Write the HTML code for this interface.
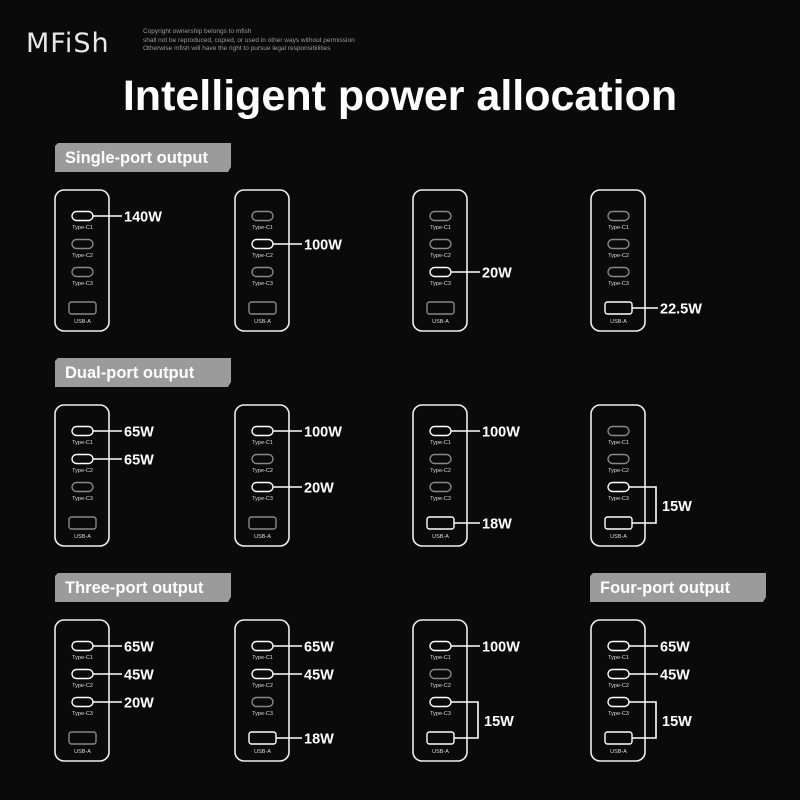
<!DOCTYPE html>
<html><head><style>
html,body{margin:0;padding:0;background:#0b0a0b;width:800px;height:800px;overflow:hidden}
svg{display:block}
</style></head><body>
<svg id="s" width="800" height="800" xmlns="http://www.w3.org/2000/svg" font-family="Liberation Sans, sans-serif">
<rect width="800" height="800" fill="#0b0a0b"/>
<text x="26" y="52" font-size="27" fill="#e8e8e8" letter-spacing="1" font-family="DejaVu Sans, sans-serif">MFiSh</text>
<text x="143" y="33" font-size="6.5" fill="#999">Copyright ownership belongs to mfish</text>
<text x="143" y="42" font-size="6.5" fill="#999">shall not be reproduced, copied, or used in other ways without permission</text>
<text x="143" y="50" font-size="6.5" fill="#999">Otherwise mfish will have the right to pursue legal responsibilities</text>
<text x="400" y="110" font-size="43" font-weight="bold" fill="#fff" text-anchor="middle">Intelligent power allocation</text>
<g id="g"></g>
</svg>
<script>
const g=document.getElementById('g');let h='';
function bar(x,y,t){h+=`<polygon points="${x+3},${y} ${x+176},${y} ${x+176},${y+24} ${x+173},${y+29} ${x},${y+29} ${x},${y+3}" fill="#9b9b9b"/><text x="${x+10}" y="${y+20}" font-size="16.5" font-weight="bold" fill="#fff">${t}</text>`;}
bar(55,143,'Single-port output');bar(55,358,'Dual-port output');bar(55,573,'Three-port output');bar(590,573,'Four-port output');
const cols=[55,235,413,591],rows=[190,405,620];
const cy=[26,54,82,118];
function dev(x,y,act,lines,br){
 h+=`<rect x="${x}" y="${y}" width="54" height="141" rx="9" fill="none" stroke="#eee" stroke-width="1.6"/>`;
 const names=['Type-C1','Type-C2','Type-C3'];
 for(let i=0;i<3;i++){const a=act.includes(i);h+=`<rect x="${x+17}" y="${y+cy[i]-4.5}" width="21" height="9" rx="4.5" fill="none" stroke="${a?'#fff':'#888'}" stroke-width="1.4"/><text x="${x+27.5}" y="${y+cy[i]+13}" font-size="5.5" fill="#ddd" text-anchor="middle">${names[i]}</text>`;}
 const a=act.includes(3);
 h+=`<rect x="${x+14}" y="${y+112}" width="27" height="12" rx="2.5" fill="none" stroke="${a?'#fff':'#888'}" stroke-width="1.4"/><text x="${x+27.5}" y="${y+133}" font-size="5.5" fill="#ddd" text-anchor="middle">USB-A</text>`;
 for(const [i,t] of lines){const px=i==3?x+41:x+38;h+=`<line x1="${px}" y1="${y+cy[i]}" x2="${x+67}" y2="${y+cy[i]}" stroke="#fff" stroke-width="1.6"/><text x="${x+69}" y="${y+cy[i]+5.5}" font-size="15" font-weight="bold" fill="#fff" transform="scale(0.85,1) " style="" >${''}</text><text x="${x+69}" y="${y+cy[i]+5.5}" font-size="14.5" font-weight="bold" fill="#fff" font-family="Liberation Sans Narrow, Liberation Sans, sans-serif">${t}</text>`;}
 if(br){h+=`<polyline points="${x+38},${y+82} ${x+65},${y+82} ${x+65},${y+118} ${x+41},${y+118}" fill="none" stroke="#fff" stroke-width="1.6"/><text x="${x+71}" y="${y+106}" font-size="14.5" font-weight="bold" fill="#fff" font-family="Liberation Sans Narrow, Liberation Sans, sans-serif">${br}</text>`;}
}
dev(cols[0],rows[0],[0],[[0,'140W']]);
dev(cols[1],rows[0],[1],[[1,'100W']]);
dev(cols[2],rows[0],[2],[[2,'20W']]);
dev(cols[3],rows[0],[3],[[3,'22.5W']]);
dev(cols[0],rows[1],[0,1],[[0,'65W'],[1,'65W']]);
dev(cols[1],rows[1],[0,2],[[0,'100W'],[2,'20W']]);
dev(cols[2],rows[1],[0,3],[[0,'100W'],[3,'18W']]);
dev(cols[3],rows[1],[2,3],[],'15W');
dev(cols[0],rows[2],[0,1,2],[[0,'65W'],[1,'45W'],[2,'20W']]);
dev(cols[1],rows[2],[0,1,3],[[0,'65W'],[1,'45W'],[3,'18W']]);
dev(cols[2],rows[2],[0,2,3],[[0,'100W']],'15W');
dev(cols[3],rows[2],[0,1,2,3],[[0,'65W'],[1,'45W']],'15W');
g.innerHTML=h;
</script>
</body></html>
